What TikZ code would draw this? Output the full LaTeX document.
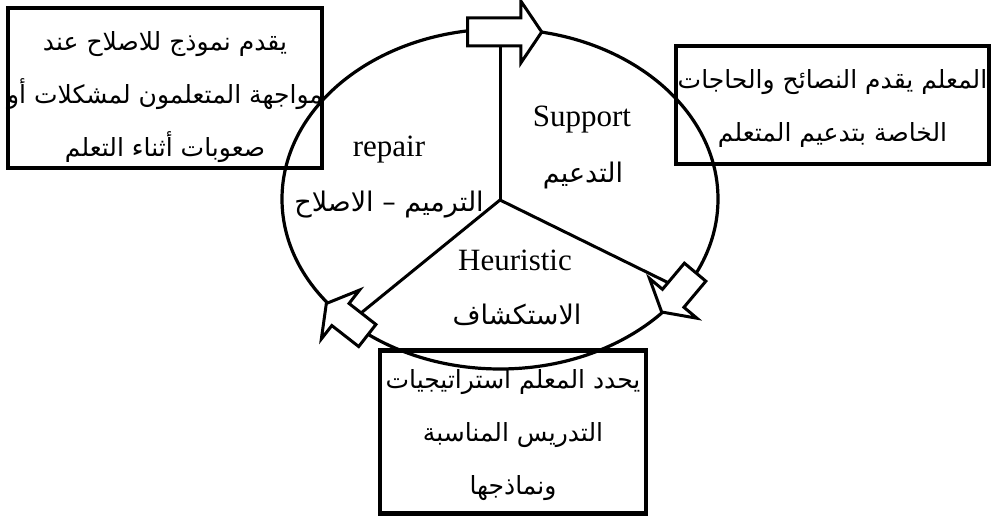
\documentclass[tikz,border=0pt]{standalone}
\usepackage{fontspec}
\setmainfont{Liberation Serif}
\newfontfamily\arabicfont[Script=Arabic]{DejaVu Sans}
\TeXXeTstate=1
\usetikzlibrary{shapes.arrows, positioning}
\newcommand{\artxt}[1]{{\arabicfont\beginR #1\endR}}
\tikzset{
  notebox/.style={draw, line width=4.5pt, inner sep=0pt},
  notetext/.style={inner sep=0pt, align=center, font=\fontsize{25}{53}\selectfont},
  cyclearrow/.style={single arrow, draw, fill=white, line width=3pt,
                     inner xsep=0pt, inner ysep=12.5pt,
                     single arrow head extend=17pt, single arrow tip angle=#1},
  spoke/.style={line width=3pt},
  enlabel/.style={font=\fontsize{31}{31}\selectfont},
  arlabel/.style={font=\fontsize{27}{27}\selectfont},
}
\begin{document}
\begin{tikzpicture}[x=1pt, y=1pt]
\useasboundingbox (0,0) rectangle (993,516);

% the cycle
\draw[line width=3.2pt] (500,317) ellipse [x radius=218pt, y radius=170pt];
\coordinate (hub) at (500,316);
\coordinate (posTop) at (500,484);
\coordinate (posRight) at (681,227);
\coordinate (posLeft) at (350,194);

% three spokes
\draw[spoke] (hub) -- (hub |- posTop);
\draw[spoke] (hub) -- (posRight);
\draw[spoke] (hub) -- (posLeft);

% block arrows on the cycle
\node[cyclearrow=112, minimum height=74pt] (arrTop) at (posTop) {};
\node[cyclearrow=120, minimum height=52pt, rotate=230] (arrRight) at (posRight) {};
\node[cyclearrow=120, minimum height=52pt, rotate=142] (arrLeft) at (posLeft) {};

% stage labels
\node[enlabel] (support) at (582,396) {Support};
\node[arlabel] (supportAr) at (583,341) {\artxt{التدعيم}};
\node[enlabel] (repair) at (389,366) {repair};
\node[arlabel] (repairAr) at (389,311) {\artxt{الترميم – الاصلاح}};
\node[enlabel] (heuristic) at (515,256) {Heuristic};
\node[arlabel] (heuristicAr) at (517,201) {\artxt{الاستكشاف}};

% explanation boxes
\node[notebox, minimum width=314pt, minimum height=160pt] (repairBox) at (165,428) {};
\node[notetext] (repairNote) at ([yshift=-9pt]repairBox.center)
  {\artxt{يقدم نموذج للاصلاح عند}\\\artxt{مواجهة المتعلمون لمشكلات أو}\\\artxt{صعوبات أثناء التعلم}};
\node[notebox, minimum width=313pt, minimum height=118pt] (supportBox) at (832.5,411) {};
\node[notetext] (supportNote) at ([yshift=-4pt]supportBox.center)
  {\artxt{المعلم يقدم النصائح والحاجات}\\\artxt{الخاصة بتدعيم المتعلم}};
\node[notebox, minimum width=266pt, minimum height=163pt] (heuristicBox) at (513,84) {};
\node[notetext] (heuristicNote) at ([yshift=-3pt]heuristicBox.center)
  {\artxt{يحدد المعلم استراتيجيات}\\\artxt{التدريس المناسبة}\\\artxt{ونماذجها}};

\end{tikzpicture}
\end{document}
